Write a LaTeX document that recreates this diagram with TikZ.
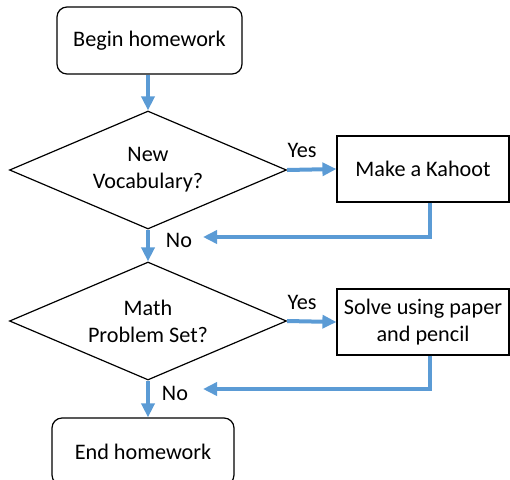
\documentclass[tikz,border=0pt]{standalone}
\usepackage{fontspec}
\setmainfont{Carlito}
\usetikzlibrary{shapes.geometric,arrows.meta}
\definecolor{flowblue}{RGB}{91,155,213}
\tikzset{
  term/.style={draw,line width=1.2pt,rounded corners=10pt,minimum width=185pt,minimum height=67pt},
  proc/.style={draw,line width=1.2pt,minimum width=172pt,minimum height=66pt,align=center,inner sep=2pt},
  decide/.style={draw,line width=1.2pt,diamond,aspect=2.35,minimum width=277pt,minimum height=118pt,inner sep=0pt,align=center},
  flow/.style={line width=4pt,flowblue},
  flowarr/.style={flow,-{Triangle[length=14pt,width=13pt]}}
}
\begin{document}
\begin{tikzpicture}[x=1pt,y=-1pt,font=\fontsize{22.2}{27}\selectfont]
  \useasboundingbox (0,0) rectangle (510,479);
  \node[term] (begin) at (149.5,40.5) {Begin homework};
  \node[decide] (vocab) at (148,170) {New\\Vocabulary?};
  \node[proc] (kahoot) at (423,169) {Make a Kahoot};
  \node[decide] (math) at (148,321) {Math\\Problem Set?};
  \node[proc] (solve) at (423,322) {Solve using paper\\and pencil};
  \node[term, minimum width=182pt] (end) at (143,451.5) {End homework};
  \coordinate (back1) at (203,237);
  \coordinate (back2) at (203,389);
  % labels
  \node (yes1) at (302,150) {Yes};
  \node (yes2) at (302,302) {Yes};
  \node (no1) at (179,240) {No};
  \node (no2) at (175,393) {No};
  % connectors
  \draw[flowarr] (begin.south -| vocab.north) -- (vocab.north);
  \draw[flowarr] (vocab.east) -- (kahoot.west);
  \draw[flowarr] ([xshift=7pt]kahoot.south) |- (back1);
  \draw[flowarr] (vocab.south) -- (math.north);
  \draw[flowarr] (math.east) -- (solve.west);
  \draw[flowarr] ([xshift=7pt]solve.south) |- (back2);
  \draw[flowarr] (math.south) -- (math.south |- end.north);
\end{tikzpicture}
\end{document}
